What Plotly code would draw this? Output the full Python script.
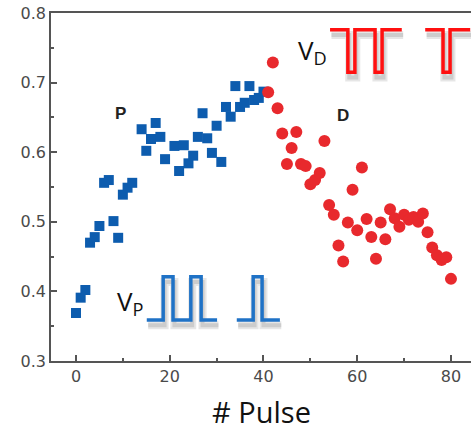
import plotly.graph_objects as go

# Potentiation (P) data: blue squares
P_x = [0, 1, 2, 3, 4, 5, 6, 7, 8, 9, 10, 11, 12, 14, 15, 16, 17, 18, 19, 21, 22, 23, 24,
       25, 26, 27, 28, 29, 30, 31, 32, 33, 34, 35, 36, 37, 38, 39, 40]
P_y = [0.369, 0.391, 0.402, 0.470, 0.478, 0.494, 0.556, 0.560, 0.501, 0.477, 0.539, 0.549,
       0.556, 0.633, 0.602, 0.619, 0.642, 0.622, 0.590, 0.609, 0.573, 0.610, 0.584, 0.595,
       0.622, 0.656, 0.620, 0.599, 0.638, 0.586, 0.665, 0.651, 0.695, 0.665, 0.671, 0.695,
       0.675, 0.678, 0.687]

# Depression (D) data: red circles
D_x = list(range(41, 81))
D_y = [0.686, 0.729, 0.663, 0.627, 0.583, 0.606, 0.629, 0.583, 0.580, 0.554, 0.560, 0.570,
       0.616, 0.524, 0.510, 0.466, 0.443, 0.499, 0.546, 0.488, 0.578, 0.504, 0.478, 0.447,
       0.499, 0.475, 0.518, 0.505, 0.493, 0.510, 0.503, 0.507, 0.500, 0.512, 0.485, 0.463,
       0.452, 0.445, 0.449, 0.418]

# Pulse waveform sketches (in axis units)
VP_x = [15.1, 18.6, 18.6, 20.7, 20.7, 24.5, 24.5, 26.7, 26.7, 30.1, None,
        34.3, 37.8, 37.8, 39.7, 39.7, 43.5]
VP_y = [0.359, 0.359, 0.421, 0.421, 0.359, 0.359, 0.421, 0.421, 0.359, 0.359, None,
        0.359, 0.359, 0.421, 0.421, 0.359, 0.359]
VD_x = [54.2, 58.0, 58.0, 59.5, 59.5, 63.8, 63.8, 65.3, 65.3, 69.5, None,
        74.5, 78.3, 78.3, 79.8, 79.8, 84.1]
VD_y = [0.776, 0.776, 0.715, 0.715, 0.776, 0.776, 0.715, 0.715, 0.776, 0.776, None,
        0.776, 0.776, 0.715, 0.715, 0.776, 0.776]

X_TICKS = [0, 20, 40, 60, 80]
Y_TICKS = [0.3, 0.4, 0.5, 0.6, 0.7, 0.8]
X_TITLE = "# Pulse"

fig = go.Figure()

def shadow(xs, ys, dx=0.3, dy=-0.0075):
    return ([x + dx if x is not None else None for x in xs],
            [y + dy if y is not None else None for y in ys])

for wx, wy in ((VP_x, VP_y), (VD_x, VD_y)):
    sx, sy = shadow(wx, wy)
    fig.add_trace(go.Scatter(x=sx, y=sy, mode="lines", hoverinfo="skip",
                             line=dict(color="rgba(60,60,60,0.13)", width=8),
                             showlegend=False))
    fig.add_trace(go.Scatter(x=sx, y=sy, mode="lines", hoverinfo="skip",
                             line=dict(color="rgba(60,60,60,0.15)", width=4),
                             showlegend=False))

fig.add_trace(go.Scatter(x=VP_x, y=VP_y, mode="lines", showlegend=False,
                         line=dict(color="#1f72c6", width=3.5)))
fig.add_trace(go.Scatter(x=VD_x, y=VD_y, mode="lines", showlegend=False,
                         line=dict(color="#ff1010", width=3.5)))

fig.add_trace(go.Scatter(x=P_x, y=P_y, mode="markers", name="P", showlegend=False,
                         marker=dict(symbol="square", size=10, color="#0d5cae")))
fig.add_trace(go.Scatter(x=D_x, y=D_y, mode="markers", name="D", showlegend=False,
                         marker=dict(symbol="circle", size=12, color="#e8292d")))

axis_col = "#555555"
fig.update_layout(
    width=471, height=430,
    margin=dict(l=51, r=0, t=13, b=69),
    paper_bgcolor="white", plot_bgcolor="white",
    font=dict(family="DejaVu Sans", color="#4a4a4a", size=16),
    xaxis=dict(range=[-5.33, 84.27], tickvals=X_TICKS, ticks="inside", ticklen=6,
               tickwidth=1.5, tickcolor=axis_col, showline=True, linecolor=axis_col,
               linewidth=1.5, mirror=True, showgrid=False, zeroline=False,
               minor=dict(dtick=10, tick0=0, ticks="inside", ticklen=3, tickwidth=1.5,
                          tickcolor=axis_col, showgrid=False),
               tickfont=dict(size=16, color="#4a4a4a")),
    yaxis=dict(range=[0.3, 0.8], tickvals=Y_TICKS, ticks="inside", ticklen=6,
               tickwidth=1.5, tickcolor=axis_col, showline=True, linecolor=axis_col,
               linewidth=1.5, mirror=False, showgrid=False, zeroline=False,
               tickformat=".1f",
               minor=dict(dtick=0.05, tick0=0.3, ticks="inside", ticklen=3, tickwidth=1.5,
                          tickcolor=axis_col, showgrid=False),
               tickfont=dict(size=16, color="#4a4a4a")),
)

# x-axis title placed below tick labels
fig.add_annotation(x=0.5, y=0, xref="paper", yref="paper", text=X_TITLE, showarrow=False,
                   xanchor="center", yanchor="middle", yshift=-50,
                   font=dict(family="Open Sans", size=29, color="#111111"))

fig.add_annotation(x=9.4, y=0.655, text="<b>P</b>", showarrow=False,
                   font=dict(family="Liberation Sans", size=17, color="#222222"))
fig.add_annotation(x=57.0, y=0.653, text="<b>D</b>", showarrow=False,
                   font=dict(family="Liberation Sans", size=17, color="#222222"))
fig.add_annotation(x=14.8, y=0.385, text="V<sub>P</sub>", showarrow=False, xanchor="right",
                   font=dict(family="Open Sans", size=26, color="#111111"))
fig.add_annotation(x=54.0, y=0.745, text="V<sub>D</sub>", showarrow=False, xanchor="right",
                   font=dict(family="Open Sans", size=26, color="#111111"))

fig.write_html("out.html")
